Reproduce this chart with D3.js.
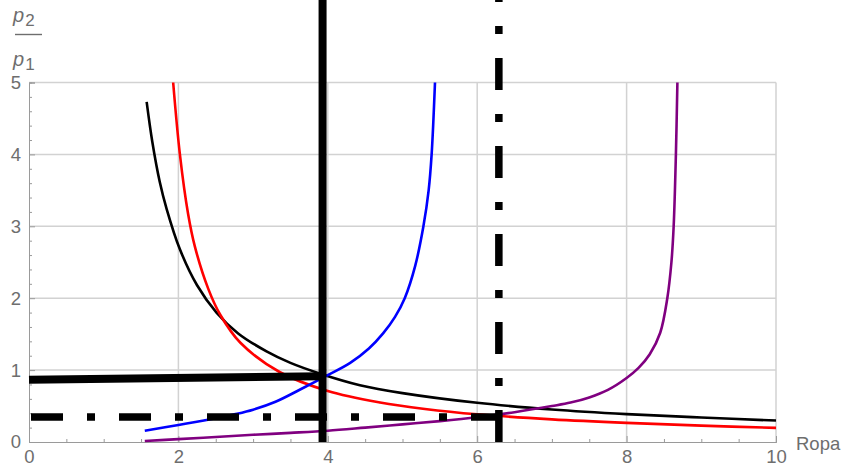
<!DOCTYPE html>
<html>
<head>
<meta charset="utf-8">
<script src="https://cdn.jsdelivr.net/npm/d3@7"></script>
<style>
  body { margin: 0; background: #fff; }
  svg { display: block; }
</style>
</head>
<body>
<svg id="chart" width="851" height="468"></svg>
<script>
// curves: [Ropa, p2/p1]
const blackCurve = [[1.575,4.73],[1.65,4.18],[1.75,3.62],[1.843,3.24],[2.02,2.68],[2.25,2.18],[2.51,1.8],[2.8,1.51],[3.18,1.26],[3.5,1.1],[3.9,0.95],[4.43,0.79],[5,0.68],[6,0.545],[7,0.453],[8,0.388],[9,0.34],[10,0.298]]
const redCurve = [[1.93,5.0],[2.02,4.0],[2.13,3.17],[2.22,2.72],[2.4,2.13],[2.56,1.77],[2.83,1.38],[3.36,0.97],[4,0.71],[4.7,0.55],[5.3,0.46],[6,0.385],[7,0.315],[8,0.266],[9,0.228],[10,0.196]]
const blueCurve = [[1.55,0.157],[2,0.237],[2.5,0.33],[2.75,0.385],[3,0.45],[3.3,0.56],[3.63,0.73],[4,0.93],[4.3,1.1],[4.55,1.3],[4.74,1.51],[4.9,1.74],[5.03,2.0],[5.17,2.45],[5.28,3.0],[5.35,3.5],[5.39,4.0],[5.435,5.0]]
const purpleCurve = [[1.55,0.014],[2,0.04],[2.5,0.07],[3,0.1],[3.5,0.127],[4,0.157],[4.5,0.2],[5,0.245],[5.5,0.29],[6,0.344],[6.5,0.415],[7,0.5],[7.25,0.548],[7.5,0.62],[7.75,0.725],[8,0.89],[8.16,1.03],[8.31,1.22],[8.45,1.52],[8.545,2.0],[8.6,2.5],[8.63,3.0],[8.66,4.0],[8.68,5.0]]

// reference lines
const solidH = [[0,0.865],[3.93,0.915]]
const solidV = [[3.93,0],[3.93,7]]
const dashH = [[0,0.348],[6.29,0.348]]
const dashV = [[6.29,0],[6.29,7]]

// ticks
const xTicks = [0,2,4,6,8,10]
const yTicks = [0,1,2,3,4,5]
const xMinor = d3.range(0.5, 10, 0.5).filter(v => v % 2 !== 0)
const yMinor = d3.range(0.2, 5, 0.2).filter(v => Math.abs(v - Math.round(v)) > 0.01)

const svg = d3.select('#chart')
const grey = '#6e6e6e'
const font = '"Liberation Sans", Arial, sans-serif'

const x = d3.scaleLinear().domain([0, 10]).range([29, 776])
const y = d3.scaleLinear().domain([0, 5]).range([442, 82.5])

// grid
svg.append('g').selectAll('line').data(xTicks.slice(1)).join('line')
  .attr('x1', d => x(d)).attr('x2', d => x(d))
  .attr('y1', y(0)).attr('y2', y(5))
  .attr('stroke', '#d2d2d2').attr('stroke-width', 1.5)
svg.append('g').selectAll('line').data(yTicks.slice(1)).join('line')
  .attr('x1', x(0)).attr('x2', x(10))
  .attr('y1', d => y(d)).attr('y2', d => y(d))
  .attr('stroke', '#d2d2d2').attr('stroke-width', 1.5)

// axes
svg.append('g').attr('transform', `translate(0,${y(0)})`)
  .call(d3.axisBottom(x).tickValues(xTicks).tickFormat(d3.format('d')).tickSize(-6).tickPadding(8))
svg.append('g').attr('transform', `translate(0,${y(0)})`)
  .call(d3.axisBottom(x).tickValues(xMinor).tickSize(-3).tickFormat(''))
svg.append('g').attr('transform', `translate(${x(0)},0)`)
  .call(d3.axisLeft(y).tickValues(yTicks).tickFormat(d3.format('d')).tickSize(-6).tickPadding(8))
svg.append('g').attr('transform', `translate(${x(0)},0)`)
  .call(d3.axisLeft(y).tickValues(yMinor).tickSize(-3).tickFormat(''))

svg.selectAll('.domain').attr('stroke', '#9a9a9a')
svg.selectAll('.tick line').attr('stroke', '#9a9a9a')
svg.selectAll('.tick text')
  .style('font-size', '18.5px').style('font-family', font).style('fill', grey)

// clip for curves
svg.append('clipPath').attr('id', 'plot')
  .append('rect').attr('x', x(0)).attr('y', y(5) - 2).attr('width', x(10) - x(0)).attr('height', y(0) - y(5) + 4)

const line = d3.line().x(d => x(d[0])).y(d => y(d[1])).curve(d3.curveCatmullRom.alpha(0.5))
const straight = d3.line().x(d => x(d[0])).y(d => y(d[1]))

const curves = svg.append('g').attr('clip-path', 'url(#plot)')
const series = [
  { data: blackCurve, color: '#000000' },
  { data: redCurve, color: '#ff0000' },
  { data: blueCurve, color: '#0000ff' },
  { data: purpleCurve, color: '#800080' }
]
series.forEach(s => {
  curves.append('path').attr('d', line(s.data))
    .attr('fill', 'none').attr('stroke', s.color).attr('stroke-width', 2.6)
})

// thick reference lines
svg.append('path').attr('d', straight(solidH))
  .attr('fill', 'none').attr('stroke', '#000').attr('stroke-width', 8)
svg.append('path').attr('d', straight(solidV))
  .attr('fill', 'none').attr('stroke', '#000').attr('stroke-width', 8)
svg.append('path').attr('d', straight(dashH))
  .attr('fill', 'none').attr('stroke', '#000').attr('stroke-width', 7.5)
  .attr('stroke-dasharray', '32,24,8,24').attr('stroke-dashoffset', -2)
svg.append('path').attr('d', straight(dashV))
  .attr('fill', 'none').attr('stroke', '#000').attr('stroke-width', 7.5)
  .attr('stroke-dasharray', '32,24,8,24')

// axis labels
const label = (sel, size) => sel.style('font-size', size).style('font-family', font).style('fill', grey)
const yl = svg.append('g')
const t2 = yl.append('text').attr('x', 13).attr('y', 22).call(label, '20px')
t2.append('tspan').style('font-style', 'italic').text('p')
t2.append('tspan').style('font-size', '17px').attr('dy', 4).attr('dx', 1).text('2')
yl.append('line').attr('x1', 15).attr('x2', 42).attr('y1', 34.5).attr('y2', 34.5)
  .attr('stroke', grey).attr('stroke-width', 1.4)
const t1 = yl.append('text').attr('x', 13).attr('y', 66).call(label, '20px')
t1.append('tspan').style('font-style', 'italic').text('p')
t1.append('tspan').style('font-size', '17px').attr('dy', 4).attr('dx', 1).text('1')

svg.append('text').attr('x', 796).attr('y', 450).text('Ropa').call(label, '18.5px')
</script>
</body>
</html>
